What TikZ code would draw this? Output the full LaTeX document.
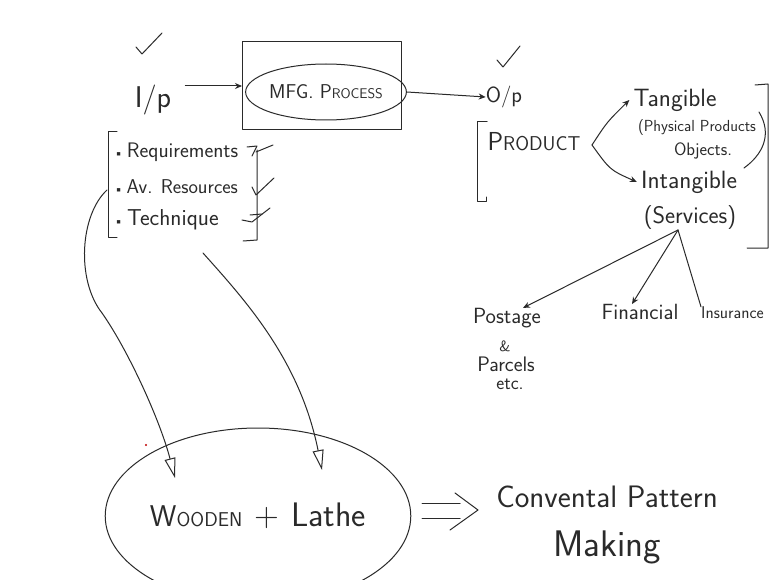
\documentclass[tikz,border=0pt]{standalone}
\usepackage{fontspec}
\usetikzlibrary{arrows.meta,shapes.geometric}
\definecolor{inkc}{HTML}{2A2A2A}
\newcommand\hwsize[1]{\fontsize{#1}{#1}\selectfont}
\begin{document}
\begin{tikzpicture}[x=1pt,y=-1pt,
  pen/.style={draw=inkc, line width=1pt, line cap=round, line join=round},
  txt/.style={text=inkc, inner sep=0pt, font=\sffamily},
  arr/.style={pen, -{Stealth[length=7pt,width=6pt]}},
  openarr/.style={pen, -{Triangle[open,length=20pt,width=11pt]}}]
\fill[white] (0,0) rectangle (770,580);
\useasboundingbox (0,0) rectangle (770,580);

% ---- input side
\draw[pen] (136,47) -- (142,54) -- (162,33);
\node[txt, font=\sffamily\hwsize{30}] (ip) at (153,100) {I/p};
\node[pen, minimum width=159pt, minimum height=88pt, inner sep=0pt] (box) at (322,86) {};
\node[pen, ellipse, txt, minimum width=157pt, minimum height=56pt, inner sep=0pt] (mfg) at (326,92)
  {\hwsize{20}MFG. P\hwsize{14}ROCESS};
\draw[arr] ([xshift=14pt]ip.east |- box.west) -- (box.west);

% ---- output
\node[txt, font=\sffamily\hwsize{22}] (op) at (504,97) {O/p};
\draw[arr] (mfg.east) -- (op.west);
\draw[pen] (497,60) -- (503,67) -- (520,46);

% ---- input list
\draw[pen] (117,132) -- (108,132) -- (108,237) -- (117,237);
\node[txt, anchor=west, font=\sffamily\hwsize{21}] (req) at (114,152) {{\hwsize{12}\textbullet}\,Requirements};
\node[txt, anchor=west, font=\sffamily\hwsize{20}] (res) at (114,187) {{\hwsize{12}\textbullet}\,Av. Resources};
\node[txt, anchor=west, font=\sffamily\hwsize{23}] (tech) at (114,220) {{\hwsize{12}\textbullet}\,Technique};
\draw[pen] (257,150) -- (257,240) -- (243,241);
\draw[pen] (247,147) -- (257,146) -- (252,156);
\draw[pen] (256,152) -- (273,145);
\draw[pen] (252,187) -- (256,195) -- (274,178);
\draw[pen] (242,220) -- (252,222) -- (270,208);
\draw[pen] (250,215) -- (262,214);

% ---- product
\draw[pen] (487,122) -- (477,122) -- (477,201) -- (486,201) -- (486,197);
\node[txt] (prod) at (534,142) {\hwsize{26}P\hwsize{20}RODUCT};
\coordinate (fork) at (592,145);
\node[txt, font=\sffamily\hwsize{25}] (tang) at (675,100) {Tangible};
\node[txt, font=\sffamily\hwsize{16}] (phys) at (697,128) {(Physical Products};
\node[txt, font=\sffamily\hwsize{18}] (obj) at (703,151) {Objects.};
\draw[pen] (759,112) .. controls (773,135) and (762,155) .. (744,168);
\node[txt, font=\sffamily\hwsize{25}] (intang) at (689,182) {Intangible};
\node[txt, font=\sffamily\hwsize{24}] (serv) at (690,218) {(Services)};
\draw[arr] (fork) .. controls (607,122) .. ([xshift=-4pt]tang.west);
\draw[arr] (fork) .. controls (610,170) .. ([xshift=-4pt]intang.west);
\draw[pen] (755,85) -- (768,84) -- (768,248) -- (747,248);

% ---- services
\coordinate (svj) at (678,230);
\node[txt, font=\sffamily\hwsize{22}] (post) at (507,318) {Postage};
\node[txt, font=\sffamily\hwsize{15}] (amp) at (505,346) {\&};
\node[txt, font=\sffamily\hwsize{21}] (parc) at (506,364) {Parcels};
\node[txt, font=\sffamily\hwsize{19}] (etc) at (510,384) {etc.};
\node[txt, font=\sffamily\hwsize{22}] (fin) at (640,312) {Financial};
\node[txt, anchor=west, font=\sffamily\hwsize{17}] (ins) at (701,313) {Insurance};
\draw[arr] (svj) -- ([xshift=16pt]post.north);
\draw[arr] (svj) -- ([xshift=-8pt]fin.north);
\draw[pen] (svj) -- (ins.north west);

% ---- bottom
\node[pen, ellipse, txt, minimum width=302pt, minimum height=176pt] (big) at (258,516)
  {\hwsize{30}W\hwsize{20}OODEN\hspace{12pt}\hwsize{34}+\hspace{12pt}\hwsize{34}Lathe};
\coordinate (a1) at (107,190);
\coordinate (t1) at (175,478);
\coordinate (a2) at (203,253);
\coordinate (t2) at (322,470);
\draw[openarr] (a1) .. controls (80,215) and (76,280) .. (102,313)
  .. controls (128,350) and (160,420) .. (t1);
\draw[openarr] (a2) .. controls (245,300) and (300,360) .. (t2);
\fill[red!75!black] (146,445) circle (1.2pt);

\coordinate (d1) at (422,503);
\coordinate (d2) at (422,518);
\draw[pen] (d1) -- (460,503);
\draw[pen] (d2) -- (460,518);
\draw[pen] (455,493) -- (478,510) -- (450,530);
\node[txt, font=\sffamily\hwsize{31}] (conv) at (607,497) {Convental Pattern};
\node[txt, font=\sffamily\hwsize{37}] (mak) at (607,547) {Making};
\end{tikzpicture}
\end{document}
